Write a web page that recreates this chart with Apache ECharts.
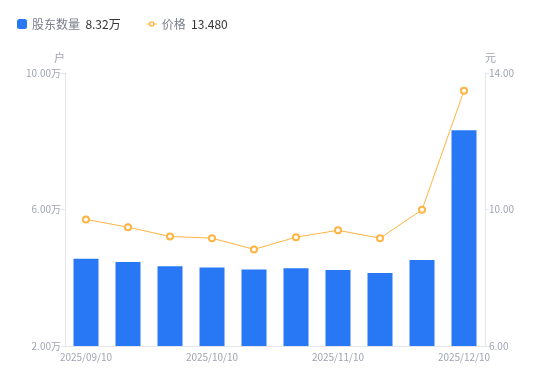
<!DOCTYPE html>
<html><head><meta charset="utf-8">
<script src="https://cdn.jsdelivr.net/npm/echarts@6/dist/echarts.min.js"></script>
<style>html,body{margin:0;padding:0;background:#fff}#c{width:550px;height:381px}</style>
</head><body><div id="c"></div>
<script>
const categories = ['2025/09/10','2025/09/20','2025/09/30','2025/10/10','2025/10/20','2025/10/31','2025/11/10','2025/11/20','2025/11/30','2025/12/10'];
const holders = [4.56, 4.46, 4.34, 4.30, 4.24, 4.28, 4.23, 4.14, 4.52, 8.32];
const prices = [9.71, 9.48, 9.21, 9.16, 8.83, 9.19, 9.39, 9.16, 9.99, 13.48];
const leftTicks = {min: 2, max: 10, interval: 4};
const rightTicks = {min: 6, max: 14, interval: 4};

const chart = echarts.init(document.getElementById('c'), null, {renderer: 'canvas'});
const font = '"Noto Sans CJK SC", "Noto Sans", sans-serif';
const labelColor = '#a0a4b3';
const axisColor = '#e4e6ec';
const lineIcon = 'path://M0,2.6H2.3V3.4H0Z M7.7,2.6H10V3.4H7.7Z M2.2,3A2.8,2.8 0 1,1 7.8,3A2.8,2.8 0 1,1 2.2,3Z M3.6,3A1.4,1.4 0 1,0 6.4,3A1.4,1.4 0 1,0 3.6,3Z';
chart.setOption({
  animation: false,
  textStyle: {fontFamily: font},
  legend: {
    left: 12, top: 13,
    itemWidth: 10, itemHeight: 10, itemGap: 26,
    textStyle: {fontFamily: font, fontSize: 12,
      rich: {n: {color: '#7b7f8c', fontSize: 12, fontFamily: font}, v: {color: '#333', fontSize: 12, fontFamily: font}}},
    formatter: function (name) {
      if (name === '股东数量') return '{n|股东数量}  {v|' + holders[holders.length-1].toFixed(2) + '万}';
      return '{n|价格}  {v|' + prices[prices.length-1].toFixed(3) + '}';
    },
    data: [{name: '股东数量', icon: 'roundRect'}, {name: '价格', icon: lineIcon, itemStyle: {color: '#ffb443', borderWidth: 0}}]
  },
  grid: {left: 65, right: 65, top: 73, bottom: 35, containLabel: false},
  xAxis: {
    type: 'category', data: categories,
    axisLine: {lineStyle: {color: axisColor}},
    axisTick: {show: false},
    axisLabel: {color: labelColor, fontSize: 10, interval: 2, margin: 6, fontFamily: font}
  },
  yAxis: [{
    type: 'value', name: '户', min: leftTicks.min, max: leftTicks.max, interval: leftTicks.interval,
    nameTextStyle: {color: labelColor, fontSize: 11, align: 'right', padding: [0, 0, 0, 0]},
    nameGap: 10,
    axisLine: {show: true, lineStyle: {color: axisColor}},
    axisTick: {show: true, length: 4, lineStyle: {color: axisColor}},
    splitLine: {show: false},
    axisLabel: {color: labelColor, fontSize: 10, margin: 4, formatter: v => v.toFixed(2) + '万'}
  }, {
    type: 'value', name: '元', min: rightTicks.min, max: rightTicks.max, interval: rightTicks.interval,
    nameTextStyle: {color: labelColor, fontSize: 11, align: 'left'},
    nameGap: 10,
    axisLine: {show: true, lineStyle: {color: axisColor}},
    axisTick: {show: true, length: 4, lineStyle: {color: axisColor}},
    splitLine: {show: false},
    axisLabel: {color: labelColor, fontSize: 10, margin: 4, formatter: v => v.toFixed(2)}
  }],
  series: [{
    name: '股东数量', type: 'bar', data: holders, yAxisIndex: 0, barWidth: 25,
    itemStyle: {color: '#2878f5'}
  }, {
    name: '价格', type: 'line', data: prices, yAxisIndex: 1,
    symbol: 'emptyCircle', symbolSize: 6,
    lineStyle: {color: '#ffb443', width: 1},
    itemStyle: {color: '#ffb443', borderWidth: 1.5}
  }]
});
</script></body></html>
